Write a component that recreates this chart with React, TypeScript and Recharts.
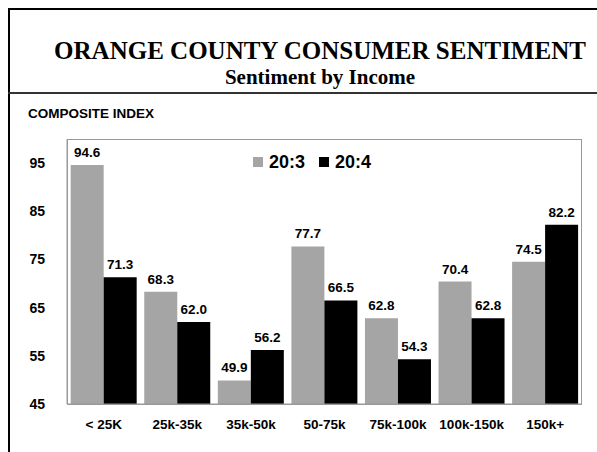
import React from 'react';
import { BarChart, Bar, XAxis, YAxis, Legend, LabelList } from 'recharts';

const incomeGroups = ['< 25K', '25k-35k', '35k-50k', '50-75k', '75k-100k', '100k-150k', '150k+'];
const q3Values = [94.6, 68.3, 49.9, 77.7, 62.8, 70.4, 74.5];
const q4Values = [71.3, 62.0, 56.2, 66.5, 54.3, 62.8, 82.2];
const yTicks = [45, 55, 65, 75, 85, 95];

const chartData = incomeGroups.map((group, i) => ({
    group,
    q3: q3Values[i],
    q4: q4Values[i],
}));

const sans = '"Liberation Sans", Arial, sans-serif';
const serif = '"Liberation Serif", "Times New Roman", serif';

const renderLegend = () => (
    <div style={{ display: 'flex', alignItems: 'center', fontFamily: sans, fontWeight: 'bold', fontSize: 18, lineHeight: '18px' }}>
        <span style={{ width: 10, height: 10, background: '#a5a5a5', display: 'inline-block', marginRight: 6 }} />
        <span style={{ marginRight: 14 }}>20:3</span>
        <span style={{ width: 10, height: 10, background: '#000', display: 'inline-block', marginRight: 6 }} />
        <span>20:4</span>
    </div>
);

const labelStyle = { fill: '#000', fontFamily: sans, fontWeight: 'bold', fontSize: 13.5 };

export default function App() {
    return (
        <div style={{ position: 'absolute', left: 0, top: 0, width: 597, height: 452, background: '#fff', overflow: 'hidden' }}>
            {/* page frame */}
            <div style={{ position: 'absolute', left: 8, top: 8, width: 620, height: 460, borderLeft: '2px solid #000', borderTop: '2px solid #000' }} />
            <div style={{ position: 'absolute', left: 8, top: 92, width: 620, borderTop: '2px solid #333' }} />

            <div style={{ position: 'absolute', left: 20, width: 600, top: 38, textAlign: 'center', fontFamily: serif, fontWeight: 'bold', fontSize: 25, lineHeight: '25px', whiteSpace: 'nowrap' }}>
                ORANGE COUNTY CONSUMER SENTIMENT
            </div>
            <div style={{ position: 'absolute', left: 20, width: 600, top: 67, textAlign: 'center', fontFamily: serif, fontWeight: 'bold', fontSize: 21, lineHeight: '21px' }}>
                Sentiment by Income
            </div>
            <div style={{ position: 'absolute', left: 28, top: 107, fontFamily: sans, fontWeight: 'bold', fontSize: 13.5, lineHeight: '13.5px' }}>
                COMPOSITE INDEX
            </div>

            <div style={{ position: 'absolute', left: 0, top: 0 }}>
                <BarChart
                    width={597}
                    height={452}
                    data={chartData}
                    barGap={0}
                    barCategoryGap="5%"
                    margin={{ top: 139, right: 15, left: 27, bottom: 0 }}
                >
                    <XAxis
                        dataKey="group"
                        axisLine={{ stroke: '#999' }}
                        tickLine={false}
                        tickMargin={9}
                        tick={{ fill: '#000', fontFamily: sans, fontWeight: 'bold', fontSize: 13.5 }}
                        interval={0}
                        height={48}
                    />
                    <YAxis
                        domain={[45, 100]}
                        ticks={yTicks}
                        allowDataOverflow
                        axisLine={{ stroke: '#999' }}
                        tickLine={false}
                        tickMargin={16}
                        width={40}
                        tick={{ fill: '#000', fontFamily: sans, fontWeight: 'bold', fontSize: 14 }}
                    />
                    <Legend
                        layout="horizontal"
                        verticalAlign="middle"
                        content={renderLegend}
                        wrapperStyle={{ position: 'absolute', top: 153, left: 253, width: 'auto' }}
                    />
                    <Bar dataKey="q3" name="20:3" fill="#a5a5a5" isAnimationActive={false}>
                        <LabelList dataKey="q3" position="top" offset={8} formatter={(v: number) => v.toFixed(1)} style={labelStyle} />
                    </Bar>
                    <Bar dataKey="q4" name="20:4" fill="#000" isAnimationActive={false}>
                        <LabelList dataKey="q4" position="top" offset={8} formatter={(v: number) => v.toFixed(1)} style={labelStyle} />
                    </Bar>
                </BarChart>
            </div>
            {/* plot area frame */}
            <div style={{ position: 'absolute', left: 67, top: 139, width: 515, height: 266, border: '1px solid #999', boxSizing: 'border-box', pointerEvents: 'none' }} />
        </div>
    );
}
